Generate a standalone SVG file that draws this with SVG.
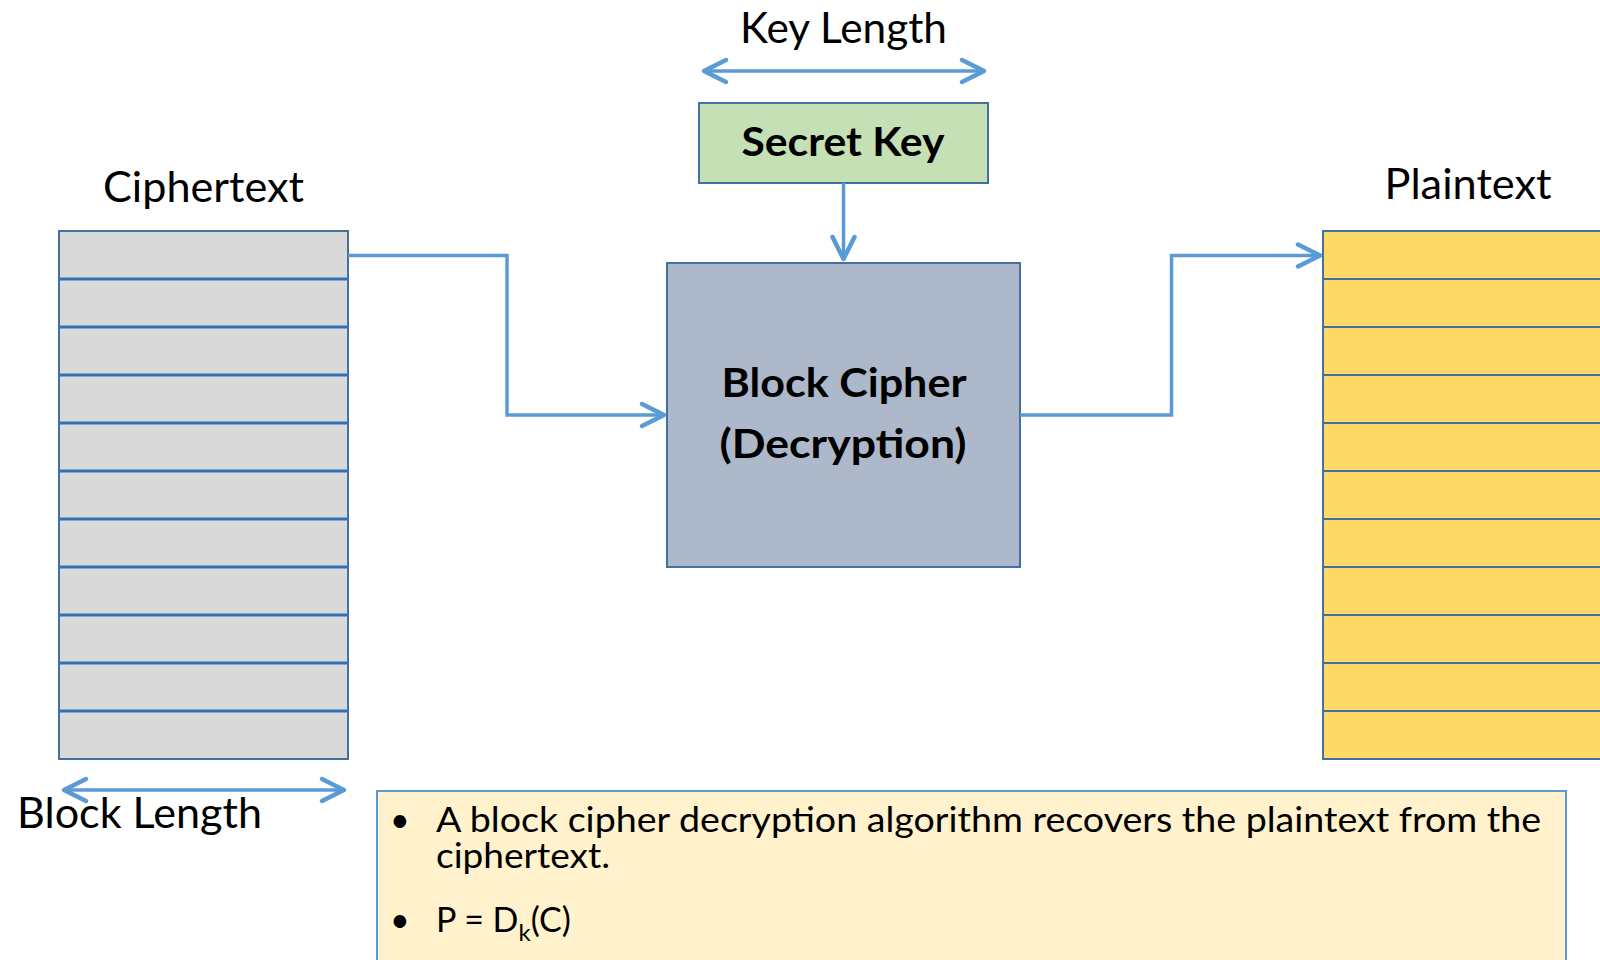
<svg xmlns="http://www.w3.org/2000/svg" width="1600" height="960" viewBox="0 0 1600 960">
  <style>
    .lbl { font-family: Lato, "Liberation Sans", sans-serif; font-size: 42px; fill: #000; }
    .bold { font-family: Lato, "Liberation Sans", sans-serif; font-weight: bold; font-size: 41px; fill: #000; }
    .body { font-family: Lato, "Liberation Sans", sans-serif; font-size: 34px; fill: #000; }
    .conn { fill: none; stroke: #5B9BD5; stroke-width: 3.5; }
    .row-c { stroke: #2E75B6; stroke-width: 3; }
    .row-p { stroke: #41719C; stroke-width: 2; }
  </style>
  <defs>
    <marker id="chev" viewBox="-30 -16 34 32" refX="0" refY="0" markerWidth="34" markerHeight="32" markerUnits="userSpaceOnUse" orient="auto-start-reverse">
      <path d="M -22 -11 L 0 0 L -22 11" fill="none" stroke="#5B9BD5" stroke-width="4.5" stroke-linecap="round" stroke-linejoin="round"/>
    </marker>
  </defs>

  <rect width="1600" height="960" fill="#FFFFFF"/>

  <!-- ciphertext stack -->
  <g id="ciphertext">
    <text class="lbl" x="203.5" y="202" text-anchor="middle" textLength="201" lengthAdjust="spacingAndGlyphs">Ciphertext</text>
    <rect x="59" y="231" width="289" height="528" fill="#D9D9D9" stroke="#41719C" stroke-width="2"/>
    <g class="row-c">
      <line x1="59" y1="279" x2="348" y2="279"/>
      <line x1="59" y1="327" x2="348" y2="327"/>
      <line x1="59" y1="375" x2="348" y2="375"/>
      <line x1="59" y1="423" x2="348" y2="423"/>
      <line x1="59" y1="471" x2="348" y2="471"/>
      <line x1="59" y1="519" x2="348" y2="519"/>
      <line x1="59" y1="567" x2="348" y2="567"/>
      <line x1="59" y1="615" x2="348" y2="615"/>
      <line x1="59" y1="663" x2="348" y2="663"/>
      <line x1="59" y1="711" x2="348" y2="711"/>
    </g>
  </g>

  <!-- plaintext stack -->
  <g id="plaintext">
    <text class="lbl" x="1468" y="199" text-anchor="middle" textLength="167" lengthAdjust="spacingAndGlyphs">Plaintext</text>
    <rect x="1323" y="231" width="320" height="528" fill="#FFD966" stroke="#41719C" stroke-width="2"/>
    <g class="row-p">
      <line x1="1323" y1="279" x2="1600" y2="279"/>
      <line x1="1323" y1="327" x2="1600" y2="327"/>
      <line x1="1323" y1="375" x2="1600" y2="375"/>
      <line x1="1323" y1="423" x2="1600" y2="423"/>
      <line x1="1323" y1="471" x2="1600" y2="471"/>
      <line x1="1323" y1="519" x2="1600" y2="519"/>
      <line x1="1323" y1="567" x2="1600" y2="567"/>
      <line x1="1323" y1="615" x2="1600" y2="615"/>
      <line x1="1323" y1="663" x2="1600" y2="663"/>
      <line x1="1323" y1="711" x2="1600" y2="711"/>
    </g>
  </g>

  <!-- key -->
  <g id="secret-key">
    <rect x="699" y="103" width="289" height="80" fill="#C5E0B4" stroke="#41719C" stroke-width="2"/>
    <text class="bold" x="843" y="156" text-anchor="middle" textLength="203" lengthAdjust="spacingAndGlyphs">Secret Key</text>
  </g>

  <!-- cipher -->
  <g id="block-cipher">
    <rect x="667" y="263" width="353" height="304" fill="#ADB9CA" stroke="#41719C" stroke-width="2"/>
    <text class="bold" x="844" y="397" text-anchor="middle" textLength="245" lengthAdjust="spacingAndGlyphs">Block Cipher</text>
    <text class="bold" x="843" y="458" text-anchor="middle" textLength="247" lengthAdjust="spacingAndGlyphs">(Decryption)</text>
  </g>

  <!-- dimension labels -->
  <g id="key-length">
    <text class="lbl" x="843.5" y="42.7" text-anchor="middle" textLength="207" lengthAdjust="spacingAndGlyphs">Key Length</text>
  </g>
  <g id="block-length">
    <text class="lbl" x="17" y="828" textLength="245" lengthAdjust="spacingAndGlyphs">Block Length</text>
  </g>

  <!-- note -->
  <g id="note">
    <rect x="377" y="791" width="1189" height="190" fill="#FFF2CC" stroke="#5B9BD5" stroke-width="2"/>
    <text class="body" x="390" y="832">•</text>
    <text class="body"><tspan x="436" y="832" textLength="1105" lengthAdjust="spacingAndGlyphs">A block cipher decryption algorithm recovers the plaintext from the</tspan><tspan x="436" y="868" textLength="174" lengthAdjust="spacingAndGlyphs">ciphertext.</tspan></text>
    <text class="body" x="390" y="932">•</text>
    <text class="body" x="436" y="932" font-size="35">P = D<tspan font-size="24" dy="9">k</tspan><tspan dy="-9">(C)</tspan></text>
  </g>

  <!-- connectors -->
  <g id="connectors">
    <line class="conn" x1="704" y1="71" x2="984" y2="71" marker-start="url(#chev)" marker-end="url(#chev)"/>
    <line class="conn" x1="64" y1="790" x2="344" y2="790" marker-start="url(#chev)" marker-end="url(#chev)"/>
    <line class="conn" x1="843.5" y1="183" x2="843.5" y2="259" marker-end="url(#chev)"/>
    <polyline class="conn" points="348,255.5 507,255.5 507,415 664,415" marker-end="url(#chev)"/>
    <polyline class="conn" points="1020,415 1171.5,415 1171.5,255.5 1320,255.5" marker-end="url(#chev)"/>
  </g>
</svg>
